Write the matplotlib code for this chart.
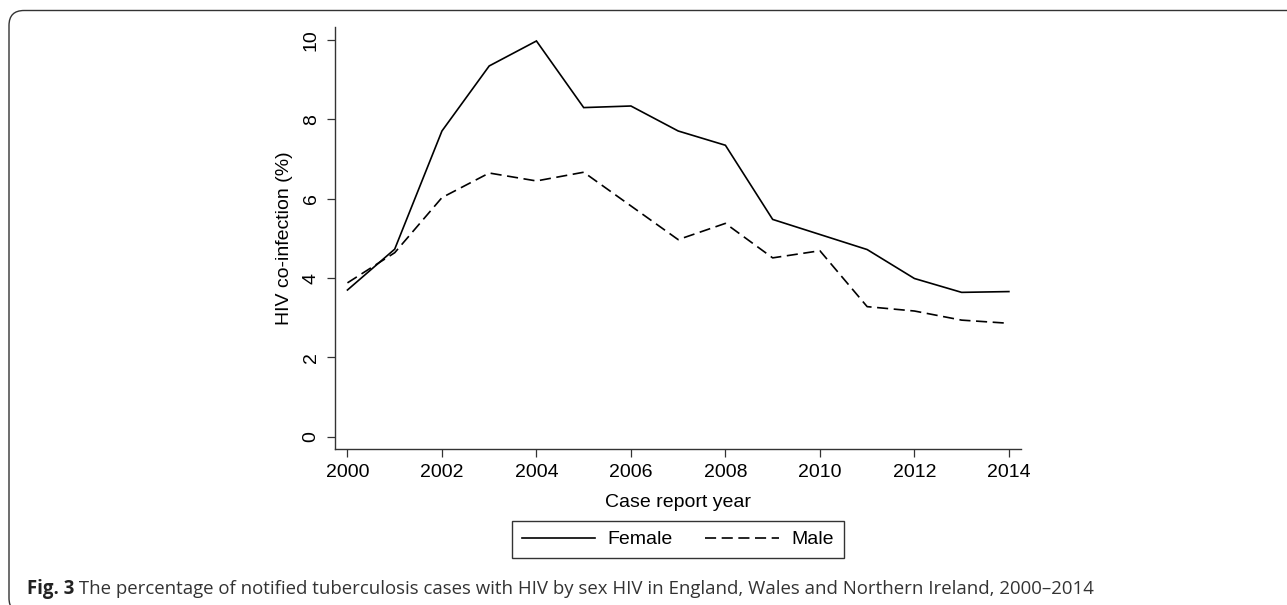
import matplotlib
matplotlib.use("Agg")
import matplotlib.pyplot as plt
from matplotlib.patches import FancyBboxPatch
from matplotlib.transforms import IdentityTransform

# ---- data ----
years = [2000, 2001, 2002, 2003, 2004, 2005, 2006, 2007,
         2008, 2009, 2010, 2011, 2012, 2013, 2014]
female = [3.70, 4.73, 7.71, 9.35, 9.98, 8.30, 8.34, 7.71,
          7.35, 5.48, 5.10, 4.72, 3.99, 3.64, 3.66]
male = [3.88, 4.64, 6.03, 6.65, 6.45, 6.67, 5.82, 4.97,
        5.38, 4.51, 4.69, 3.28, 3.17, 2.94, 2.86]
xticks = [2000, 2002, 2004, 2006, 2008, 2010, 2012, 2014]
yticks = [0, 2, 4, 6, 8, 10]
series_labels = ["Female", "Male"]
x_label = "Case report year"
y_label = "HIV co-infection (%)"
caption_bold = "Fig. 3"
caption_text = (" The percentage of notified tuberculosis cases with HIV by sex HIV "
                "in England, Wales and Northern Ireland, 2000\u20132014")

plt.rcParams['lines.scale_dashes'] = False
W, H = 1287, 605
fig = plt.figure(figsize=(W / 100, H / 100), dpi=100)
fig.patch.set_facecolor("white")

ax = fig.add_axes([334.7 / W, 1 - 449 / H, (1020.7 - 334.7) / W, (449 - 26.7) / H])
ax.plot(years, female, color="black", lw=1.2, solid_joinstyle="miter", label=series_labels[0])
ax.plot(years, male, color="black", lw=1.2, linestyle=(0, (8, 4)), label=series_labels[1])

ax.set_xlim(1999.73, 2014.25)
ax.set_ylim(-0.31, 10.34)
ax.set_xticks(xticks)
ax.set_yticks(yticks)
font = "Liberation Sans"
ax.set_xticklabels([str(t) for t in xticks], fontfamily=font, fontsize=14)
ax.set_yticklabels([str(t) for t in yticks], fontfamily=font, fontsize=14,
                   rotation=90, va="center")
for s in ["top", "right"]:
    ax.spines[s].set_visible(False)
for s in ["left", "bottom"]:
    ax.spines[s].set_linewidth(1.0)
    ax.spines[s].set_color("#333333")
ax.tick_params(axis="both", length=5.8, width=0.9, color="#333333")
ax.tick_params(axis="x", pad=5)
ax.tick_params(axis="y", pad=5)
ax.set_xlabel(x_label, fontfamily=font, fontsize=14, labelpad=9.5)
ax.set_ylabel(y_label, fontfamily=font, fontsize=14, labelpad=7)

handles, labels = ax.get_legend_handles_labels()
leg = fig.legend(handles, labels, loc="upper center",
                 bbox_to_anchor=(677.7 / W, 1 - 521 / H), ncol=2,
                 frameon=True, fancybox=False, edgecolor="black",
                 prop={"family": font, "size": 14},
                 handlelength=3.77, handletextpad=0.65, columnspacing=1.68,
                 borderpad=0.5, borderaxespad=0)
leg.get_frame().set_linewidth(1.0)

# caption
cap_y = 1 - 589 / H
t1 = fig.text(26.7 / W, cap_y, caption_bold, fontfamily="Open Sans", fontweight="bold",
              fontsize=13.4, color="#222222", va="center", ha="left")
fig.canvas.draw()
r = fig.canvas.get_renderer()
bb = t1.get_window_extent(renderer=r)
fig.text(bb.x1 / W, cap_y, caption_text, fontfamily="Open Sans",
         fontsize=13.4, color="#333333", va="center", ha="left")

# rounded border
border = FancyBboxPatch((9, -8), 1300, H - 10.5 + 8,
                        boxstyle="round,pad=0,rounding_size=15",
                        transform=IdentityTransform(), fill=False,
                        edgecolor="#333333", linewidth=1.0)
fig.patches.append(border)

fig.savefig("out.png", dpi=100)
